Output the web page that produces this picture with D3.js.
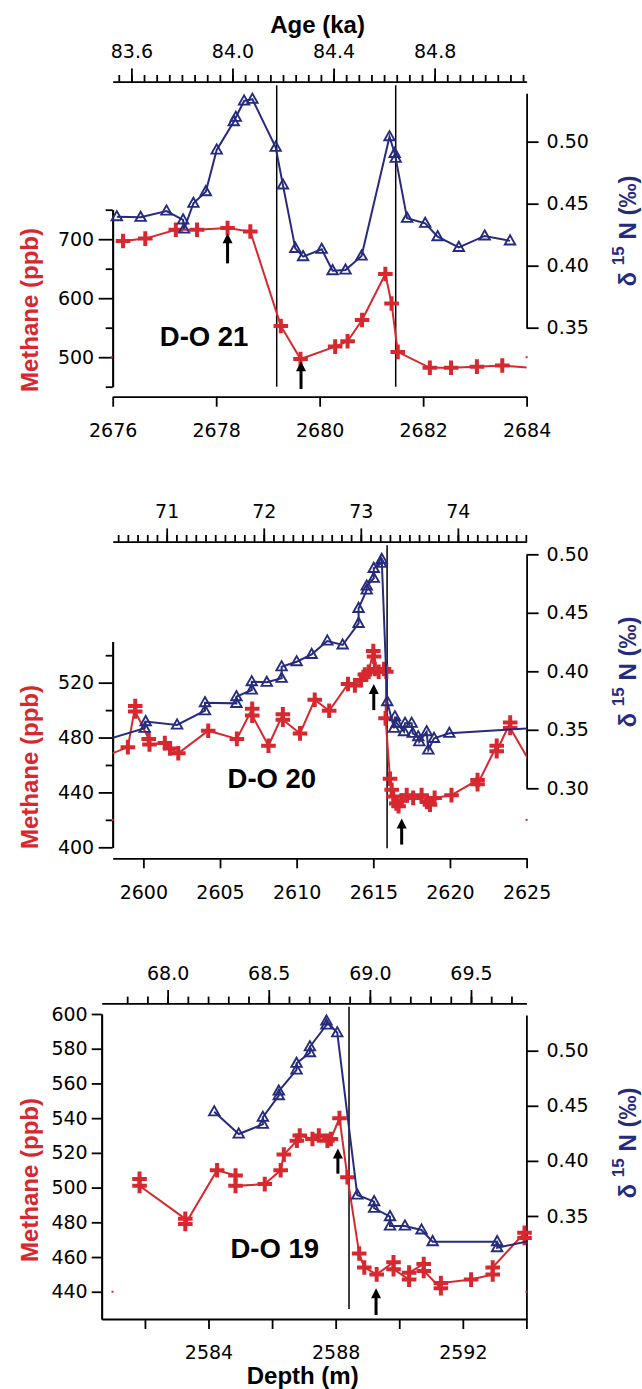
<!DOCTYPE html>
<html>
<head>
<meta charset="utf-8">
<script src="https://cdn.jsdelivr.net/npm/d3@7"></script>
<style>
  body { margin: 0; background: #fff; }
  svg { display: block; }
</style>
</head>
<body>
<script>
// size of the page
var w = 642;
var h = 1389;

var red = "#d7282f";
var blue = "#262b7d";

// ---- D-O 21 : [depth (m), value]
var do21Methane = [
  [2676.2, 697], [2676.63, 701], [2677.22, 716], [2677.63, 716], [2678.22, 719],
  [2678.66, 713], [2679.25, 553], [2679.63, 497], [2680.30, 518], [2680.54, 527],
  [2680.82, 563], [2681.27, 641], [2681.39, 591], [2681.51, 509], [2682.13, 482],
  [2682.54, 482], [2683.04, 484], [2683.53, 486], [2684.5, 479]
];
var do21N15 = [
  [2676.08, 0.4395], [2676.54, 0.439], [2677.04, 0.4441], [2677.36, 0.4369], [2677.38, 0.4296],
  [2677.56, 0.4503], [2677.80, 0.4597], [2678.01, 0.4933], [2678.34, 0.5161], [2678.38, 0.5197],
  [2678.54, 0.5328], [2678.70, 0.5342], [2679.15, 0.4955], [2679.29, 0.4651], [2679.53, 0.414],
  [2679.68, 0.4073], [2680.04, 0.4132], [2680.25, 0.396], [2680.50, 0.3965], [2680.81, 0.4078],
  [2681.35, 0.504], [2681.45, 0.4906], [2681.47, 0.4866], [2681.69, 0.4382], [2682.04, 0.4342],
  [2682.28, 0.4234], [2682.69, 0.4148], [2683.19, 0.424], [2683.68, 0.42]
];
// arrows: [depth, tail ppb, tip ppb]
var do21Arrows = [[2678.22, 659, 710], [2679.64, 446, 493]];
var do21Lines = [2679.17, 2681.47];
var do21AgeLabels = [83.6, 84.0, 84.4, 84.8];
var do21DepthTicks = [2676, 2678, 2680, 2682, 2684];
var do21PpbLabels = [500, 600, 700];
var do21PpbMinor = [450, 550, 650, 750];
var do21N15Ticks = [0.35, 0.40, 0.45, 0.50];

// ---- D-O 20
var do20Methane = [
  [2597.5, 466.3], [2598.99, 473], [2599.47, 503], [2599.47, 499], [2600.35, 479],
  [2600.4, 475], [2601.4, 476], [2601.74, 472], [2602.28, 468.5], [2604.23, 485],
  [2606.1, 479], [2607.1, 501], [2607.1, 496], [2608.16, 474], [2609.1, 497],
  [2609.1, 493], [2610.22, 483], [2611.18, 507.5], [2612.12, 499.5], [2613.35, 519],
  [2613.8, 518], [2614.2, 522], [2614.45, 526], [2614.7, 528], [2615.0, 543],
  [2615.05, 539], [2615.1, 530], [2615.35, 528], [2615.7, 530], [2615.85, 528],
  [2615.8, 494], [2616.09, 450], [2616.2, 442], [2616.3, 437], [2616.5, 432],
  [2616.65, 430], [2616.85, 434], [2617.18, 438], [2617.6, 436], [2618.15, 438],
  [2618.5, 433], [2618.7, 431], [2619.0, 436], [2620.1, 438], [2621.8, 449],
  [2621.8, 446], [2623.05, 474], [2623.05, 470], [2623.93, 491], [2623.93, 487],
  [2625.5, 456.7]
];
var do20N15 = [
  [2597.5, 0.3413], [2600.09, 0.3513], [2600.15, 0.357], [2602.2, 0.3541], [2604.02, 0.3663],
  [2604.02, 0.3732], [2606.07, 0.3726], [2606.07, 0.3783], [2607.07, 0.384], [2607.07, 0.3911],
  [2608.05, 0.3906], [2609.02, 0.394], [2609.02, 0.4039], [2610.0, 0.4082], [2610.98, 0.4145],
  [2612.0, 0.4259], [2613.0, 0.4225], [2614.04, 0.441], [2614.04, 0.4538], [2614.57, 0.4695],
  [2614.57, 0.4729], [2615.03, 0.4795], [2615.03, 0.488], [2615.51, 0.4923], [2615.55, 0.4957],
  [2615.91, 0.374], [2616.35, 0.3513], [2616.41, 0.3612], [2616.53, 0.3556], [2617.0, 0.3484],
  [2617.07, 0.3556], [2617.5, 0.3556], [2617.57, 0.347], [2617.93, 0.3441], [2618.0, 0.3398],
  [2618.48, 0.3484], [2618.59, 0.3327], [2618.96, 0.3427], [2619.96, 0.347], [2626, 0.352]
];
var do20Arrows = [[2615.03, 500, 519], [2616.85, 402, 421]];
var do20Lines = [2615.9];
var do20AgeLabels = [71, 72, 73, 74];
var do20DepthTicks = [2600, 2605, 2610, 2615, 2620, 2625];
var do20PpbLabels = [400, 440, 480, 520];
var do20PpbMinor = [420, 460, 500, 540];
var do20N15Ticks = [0.30, 0.35, 0.40, 0.45, 0.50];

// ---- D-O 19
var do19Methane = [
  [2581.83, 505], [2581.83, 501], [2583.27, 482], [2583.27, 479], [2584.27, 510],
  [2584.85, 507], [2584.85, 501], [2585.77, 502], [2586.27, 510], [2586.37, 519],
  [2586.78, 527], [2586.87, 530], [2587.27, 528], [2587.47, 530], [2587.74, 527],
  [2587.85, 528], [2588.12, 540], [2588.37, 506], [2588.74, 462], [2588.9, 454],
  [2589.29, 450], [2589.82, 457], [2589.82, 453], [2590.31, 447], [2590.31, 451],
  [2590.77, 456], [2590.77, 452], [2591.31, 442], [2591.31, 445], [2592.26, 447],
  [2592.94, 450], [2592.94, 454], [2593.94, 474], [2593.94, 471]
];
var do19N15 = [
  [2584.18, 0.4446], [2584.95, 0.4244], [2585.71, 0.4332], [2585.71, 0.4396], [2586.21, 0.4592],
  [2586.21, 0.4634], [2586.77, 0.4825], [2586.77, 0.4886], [2587.19, 0.4982], [2587.19, 0.5036],
  [2587.71, 0.5233], [2587.71, 0.527], [2588.05, 0.5163], [2588.68, 0.369], [2589.21, 0.363],
  [2589.21, 0.357], [2589.71, 0.3494], [2589.71, 0.3409], [2590.18, 0.3409], [2590.70, 0.3373],
  [2591.05, 0.3267], [2593.08, 0.3267], [2593.08, 0.3212], [2594.3, 0.3285]
];
var do19Arrows = [[2588.07, 508, 522.5], [2589.27, 426.6, 442]];
var do19Lines = [2588.42];
var do19AgeLabels = [68.0, 68.5, 69.0, 69.5];
var do19DepthLabels = [2584, 2588, 2592];
var do19DepthTicks = [2582, 2584, 2586, 2588, 2590, 2592, 2594];
var do19PpbLabels = [440, 460, 480, 500, 520, 540, 560, 580, 600];
var do19N15Ticks = [0.35, 0.40, 0.45, 0.50];

// panel set-up (layout + which arrays to use)
var panels = [
  { name: "D-O 21", namePos: [2676.91, 519.7],
    methane: do21Methane, n15: do21N15, arrows: do21Arrows, vlines: do21Lines,
    depth: [2676, 2684], age: [83.526, 85.164], ageStep: 0.05, ageFrom: 83.55, ageTo: 85.15,
    ageLabels: do21AgeLabels, ageFmt: ".1f",
    depthTicks: do21DepthTicks, depthLabels: do21DepthTicks,
    ppb: [450, 750], ppbLabels: do21PpbLabels, ppbMinor: do21PpbMinor, ppbTick: 14, ppbPad: 4.5,
    n15Dom: [0.35, 0.539], n15Ticks: do21N15Ticks,
    dots: [[2675.98, 500], [2684, 500]],
    x0: 112.7, x1: 526.6, top: 81.7, bottom: 396.7,
    ppbRange: [386.7, 209.7], n15Range: [327.7, 93.3],
    mLabelY: 310, nLabelY: 231 },
  { name: "D-O 20", namePos: [2605.49, 443],
    methane: do20Methane, n15: do20N15, arrows: do20Arrows, vlines: do20Lines,
    depth: [2598, 2625], age: [70.444, 74.708], ageStep: 0.1, ageFrom: 70.5, ageTo: 74.7,
    ageLabels: do20AgeLabels, ageFmt: "d",
    depthTicks: do20DepthTicks, depthLabels: do20DepthTicks,
    ppb: [400, 550], ppbLabels: do20PpbLabels, ppbMinor: do20PpbMinor, ppbTick: 14, ppbPad: 4.5,
    n15Dom: [0.30, 0.50], n15Ticks: do20N15Ticks,
    dots: [[2598, 420], [2625, 420]],
    x0: 112.7, x1: 526.6, top: 541.7, bottom: 858.3,
    ppbRange: [847.3, 641.5], n15Range: [788.3, 554.3],
    mLabelY: 767, nLabelY: 672 },
  { name: "D-O 19", namePos: [2584.69, 459.2],
    methane: do19Methane, n15: do19N15, arrows: do19Arrows, vlines: do19Lines,
    depth: [2580.64, 2594], age: [67.674, 69.774], ageStep: 0.1, ageFrom: 67.8, ageTo: 69.7,
    ageLabels: do19AgeLabels, ageFmt: ".1f",
    depthTicks: do19DepthTicks, depthLabels: do19DepthLabels,
    ppb: [424.3, 600], ppbLabels: do19PpbLabels, ppbMinor: [], ppbTick: 10, ppbPad: 4,
    n15Dom: [0.2565, 0.5324], n15Ticks: do19N15Ticks,
    dots: [[2580.98, 440], [2594, 440]],
    x0: 101.7, x1: 526.4, top: 1003.3, bottom: 1319,
    ppbRange: [1319, 1014], n15Range: [1319, 1015],
    mLabelY: 1180, nLabelY: 1143 }
];

var svg = d3.select("body")
  .append("svg")
  .attr("width", w)
  .attr("height", h);

function styleAxis(g) {
  g.attr("font-family", "'DejaVu Sans', sans-serif")
    .attr("font-size", 19);
  g.selectAll("path, line")
    .attr("stroke", "#000")
    .attr("stroke-width", 1.8);
  g.selectAll("text").attr("fill", "#000");
}

panels.forEach(function(p, i) {
  var g = svg.append("g");

  var x = d3.scaleLinear().domain(p.depth).range([p.x0, p.x1]);
  var age = d3.scaleLinear().domain(p.age).range([p.x0, p.x1]);
  var yM = d3.scaleLinear().domain(p.ppb).range(p.ppbRange);
  var yN = d3.scaleLinear().domain(p.n15Dom).range(p.n15Range);

  // top age axis
  var n = Math.round((p.ageTo - p.ageFrom) / p.ageStep);
  var ageMinor = d3.range(n + 1).map(function(k) { return +(p.ageFrom + k * p.ageStep).toFixed(2); });
  g.append("g")
    .attr("transform", "translate(0," + p.top + ")")
    .call(d3.axisTop(age).tickValues(ageMinor).tickSize(6.7).tickSizeOuter(0).tickFormat(""))
    .call(styleAxis);
  g.append("g")
    .attr("transform", "translate(0," + p.top + ")")
    .call(d3.axisTop(age).tickValues(p.ageLabels).tickSize(13.3).tickPadding(10)
      .tickFormat(d3.format(p.ageFmt)))
    .call(styleAxis)
    .select(".domain").remove();

  // bottom depth axis
  g.append("g")
    .attr("transform", "translate(0," + p.bottom + ")")
    .call(d3.axisBottom(x).tickValues(p.depthTicks).tickSize(10).tickSizeOuter(0)
      .tickPadding(17).tickFormat(function(d) {
        return p.depthLabels.indexOf(d) >= 0 ? d3.format("d")(d) : "";
      }))
    .call(styleAxis);

  // left methane axis
  g.append("g")
    .attr("transform", "translate(" + p.x0 + ",0)")
    .call(d3.axisLeft(yM).tickValues(p.ppbMinor).tickSize(7).tickSizeOuter(0).tickFormat(""))
    .call(styleAxis);
  g.append("g")
    .attr("transform", "translate(" + p.x0 + ",0)")
    .call(d3.axisLeft(yM).tickValues(p.ppbLabels).tickSize(p.ppbTick).tickSizeOuter(0)
      .tickPadding(p.ppbPad).tickFormat(d3.format("d")))
    .call(styleAxis);

  // right d15N axis
  g.append("g")
    .attr("transform", "translate(" + p.x1 + ",0)")
    .call(d3.axisRight(yN).tickValues(p.n15Ticks).tickSize(12).tickSizeOuter(0)
      .tickPadding(8).tickFormat(d3.format(".2f")))
    .call(styleAxis);

  // clip to the plot width
  var clipId = "clip" + i;
  svg.append("clipPath").attr("id", clipId)
    .append("rect")
    .attr("x", p.x0).attr("y", p.top)
    .attr("width", p.x1 - p.x0).attr("height", p.bottom - p.top + 20);

  // transition lines
  g.selectAll(".vline")
    .data(p.vlines)
    .enter()
    .append("line")
    .attr("x1", function(d) { return x(d); })
    .attr("x2", function(d) { return x(d); })
    .attr("y1", p.top + 3.5)
    .attr("y2", p.bottom - 10)
    .attr("stroke", "#000")
    .attr("stroke-width", 1.5);

  var inside = function(d) { return d[0] >= p.depth[0] && d[0] <= p.depth[1]; };

  // methane
  var lineM = d3.line()
    .x(function(d) { return x(d[0]); })
    .y(function(d) { return yM(d[1]); });
  g.append("path")
    .datum(p.methane)
    .attr("clip-path", "url(#" + clipId + ")")
    .attr("d", lineM)
    .attr("fill", "none")
    .attr("stroke", red)
    .attr("stroke-width", 2);
  g.selectAll(".cross")
    .data(p.methane.filter(inside))
    .enter()
    .append("path")
    .attr("transform", function(d) { return "translate(" + x(d[0]) + "," + yM(d[1]) + ")"; })
    .attr("d", "M-7.3,0H7.3M0,-7.3V7.3")
    .attr("stroke", red)
    .attr("stroke-width", 4)
    .attr("fill", "none");

  // d15N
  var lineN = d3.line()
    .x(function(d) { return x(d[0]); })
    .y(function(d) { return yN(d[1]); });
  g.append("path")
    .datum(p.n15)
    .attr("clip-path", "url(#" + clipId + ")")
    .attr("d", lineN)
    .attr("fill", "none")
    .attr("stroke", blue)
    .attr("stroke-width", 2);
  g.selectAll(".tri")
    .data(p.n15.filter(inside))
    .enter()
    .append("path")
    .attr("transform", function(d) { return "translate(" + x(d[0]) + "," + yN(d[1]) + ")"; })
    .attr("d", "M0,-5.6L5.2,3.6L-5.2,3.6Z")
    .attr("stroke", blue)
    .attr("stroke-width", 1.9)
    .attr("fill", "none");

  // small red marks at the ends
  g.selectAll(".dot")
    .data(p.dots)
    .enter()
    .append("rect")
    .attr("x", function(d) { return x(d[0]) - 1; })
    .attr("y", function(d) { return yM(d[1]) - 1; })
    .attr("width", 2)
    .attr("height", 2)
    .attr("fill", red);

  // arrows
  p.arrows.forEach(function(a) {
    var ax = x(a[0]), yTail = yM(a[1]), yTip = yM(a[2]);
    g.append("line")
      .attr("x1", ax).attr("x2", ax)
      .attr("y1", yTail).attr("y2", yTip + 8)
      .attr("stroke", "#000")
      .attr("stroke-width", 3);
    g.append("path")
      .attr("d", "M" + ax + "," + yTip + "l5,10h-10z")
      .attr("fill", "#000");
  });

  // event name
  g.append("text")
    .attr("x", x(p.namePos[0]))
    .attr("y", yM(p.namePos[1]))
    .attr("font-family", "'Liberation Sans', Arial, sans-serif")
    .attr("font-weight", "bold")
    .attr("font-size", 27.5)
    .attr("fill", "#000")
    .text(p.name);

  // axis titles
  g.append("text")
    .attr("transform", "translate(38," + p.mLabelY + ") rotate(-90)")
    .attr("text-anchor", "middle")
    .attr("font-family", "'Liberation Sans', Arial, sans-serif")
    .attr("font-weight", "bold")
    .attr("font-size", 24)
    .attr("fill", red)
    .text("Methane (ppb)");

  var nt = g.append("text")
    .attr("transform", "translate(636," + p.nLabelY + ") rotate(-90)")
    .attr("text-anchor", "middle")
    .attr("font-family", "'Liberation Sans', Arial, sans-serif")
    .attr("font-weight", "bold")
    .attr("font-size", 24)
    .attr("fill", blue);
  nt.append("tspan").text("δ ");
  nt.append("tspan").attr("font-size", 17).attr("dy", -12).text("15");
  nt.append("tspan").attr("dy", 12).text(" N (‰)");
});

svg.append("text")
  .attr("x", 317.6)
  .attr("y", 33)
  .attr("text-anchor", "middle")
  .attr("font-family", "'Liberation Sans', Arial, sans-serif")
  .attr("font-weight", "bold")
  .attr("font-size", 24)
  .text("Age (ka)");

svg.append("text")
  .attr("x", 302.7)
  .attr("y", 1383.5)
  .attr("text-anchor", "middle")
  .attr("font-family", "'Liberation Sans', Arial, sans-serif")
  .attr("font-weight", "bold")
  .attr("font-size", 24)
  .text("Depth (m)");
</script>
</body>
</html>
